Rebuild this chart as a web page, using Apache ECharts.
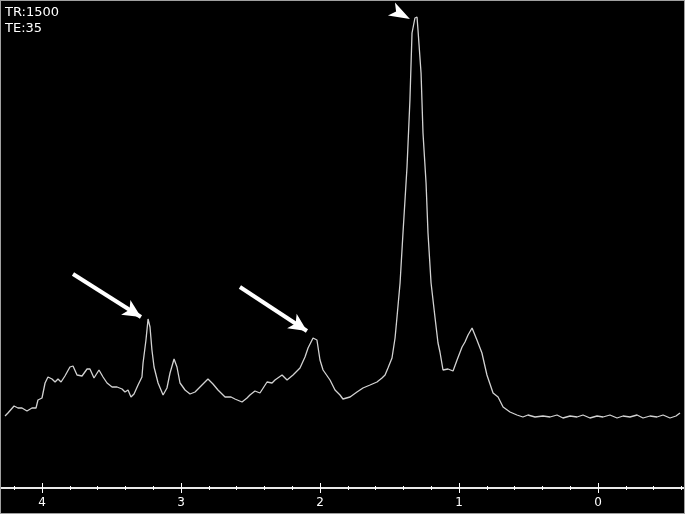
<!DOCTYPE html>
<html>
<head>
<meta charset="utf-8">
<script src="https://cdn.jsdelivr.net/npm/echarts@6/dist/echarts.min.js"></script>
<style>
  html, body { margin: 0; padding: 0; background: #000; }
  #chart { width: 685px; height: 514px; position: absolute; left: 0; top: 0; }
  #frame { width: 685px; height: 514px; position: absolute; left: 0; top: 0;
           box-sizing: border-box; border: 1px solid #a0a0a0; pointer-events: none; }
</style>
</head>
<body>
<div id="chart"></div>
<div id="frame"></div>
<script>
// chemical shift (ppm) and signal (arbitrary units)
const ppm = [
  4.266, 4.245, 4.201, 4.173, 4.144, 4.108, 4.072, 4.043, 4.029, 4.000,
  3.978, 3.957, 3.928, 3.906, 3.885, 3.863, 3.835, 3.799, 3.777, 3.748,
  3.712, 3.676, 3.655, 3.626, 3.590, 3.561, 3.532, 3.496, 3.460, 3.424,
  3.403, 3.381, 3.360, 3.338, 3.309, 3.281, 3.273, 3.252, 3.237, 3.223,
  3.209, 3.194, 3.165, 3.129, 3.101, 3.079, 3.050, 3.029, 3.007, 2.971,
  2.935, 2.899, 2.849, 2.806, 2.770, 2.734, 2.683, 2.640, 2.612, 2.561,
  2.525, 2.504, 2.468, 2.432, 2.381, 2.345, 2.324, 2.273, 2.237, 2.194,
  2.144, 2.108, 2.086, 2.050, 2.022, 2.000, 1.978, 1.928, 1.892, 1.856,
  1.835, 1.784, 1.734, 1.691, 1.640, 1.590, 1.554, 1.532, 1.511, 1.482,
  1.460, 1.446, 1.424, 1.403, 1.374, 1.353, 1.338, 1.317, 1.302, 1.295,
  1.273, 1.259, 1.237, 1.223, 1.201, 1.173, 1.151, 1.137, 1.115, 1.079,
  1.043, 1.014, 0.978, 0.957, 0.935, 0.906, 0.871, 0.835, 0.799, 0.755,
  0.719, 0.683, 0.633, 0.583, 0.540, 0.504, 0.453, 0.396, 0.345, 0.295,
  0.252, 0.201, 0.151, 0.108, 0.058, 0.007, -0.036, -0.086, -0.137, -0.180,
  -0.230, -0.281, -0.324, -0.374, -0.424, -0.468, -0.518, -0.561, -0.590
];
const signal = [
  72, 75, 82, 80, 80, 77, 80, 80, 88, 90,
  105, 111, 109, 106, 109, 106, 112, 121, 122, 113,
  112, 119, 119, 110, 118, 111, 105, 101, 101, 99,
  96, 98, 91, 94, 103, 111, 125, 148, 169, 161,
  138, 121, 105, 93, 100, 115, 129, 121, 105, 98,
  94, 96, 103, 109, 104, 98, 91, 91, 89, 86,
  90, 93, 97, 95, 106, 105, 108, 113, 108, 113,
  120, 131, 140, 150, 148, 128, 118, 108, 98, 93,
  89, 91, 96, 100, 103, 106, 110, 113, 120, 130,
  150, 171, 205, 255, 321, 388, 455, 470, 471, 458,
  415, 355, 305, 255, 205, 171, 145, 136, 118, 119,
  117, 128, 141, 146, 153, 160, 148, 135, 113, 95,
  91, 81, 76, 73, 71, 73, 71, 72, 71, 73,
  70, 72, 71, 73, 70, 72, 71, 73, 70, 72,
  71, 73, 70, 72, 71, 73, 70, 72, 75
];

// annotation arrows: [tail ppm, tail signal, tip ppm, tip signal]
const arrows = [
  [3.777, 214, 3.288, 171],
  [2.576, 201, 2.094, 157]
];
const arrowHead = [1.486, 479, 1.353, 469];

const headerLines = ['TR:1500', 'TE:35'];
const tickLabels = [4, 3, 2, 1, 0];

const chart = echarts.init(document.getElementById('chart'));

const xBase = {
  type: 'value',
  position: 'bottom',
  inverse: true,
  min: -1,
  max: 5,
  interval: 1,
  splitLine: { show: false },
  axisLine: { show: true, onZero: false, lineStyle: { color: '#e8e8e8', width: 2 } }
};

const markData = arrows.map(a => [
  { coord: [a[0], a[1]], symbol: 'none' },
  { coord: [a[2], a[3]], symbol: 'arrow', symbolSize: [13, 18] }
]);
markData.push([
  { coord: [arrowHead[0], arrowHead[1]], symbol: 'none', lineStyle: { width: 0 } },
  { coord: [arrowHead[2], arrowHead[3]], symbol: 'arrow', symbolSize: [11, 21] }
]);

chart.setOption({
  backgroundColor: '#000',
  animation: false,
  title: {
    text: headerLines.join('\n'),
    left: 0,
    top: 0,
    textStyle: { color: '#fff', fontSize: 13, fontWeight: 'normal', lineHeight: 16, fontFamily: 'DejaVu Sans' }
  },
  grid: { left: -97, width: 834, top: 0, bottom: 26, outerBoundsMode: 'none', containLabel: false },
  xAxis: [
    Object.assign({}, xBase, {
      axisTick: { show: true, inside: false, length: 5, lineStyle: { color: '#fff', width: 1 } },
      minorTick: { show: true, splitNumber: 5, length: 2, lineStyle: { color: '#fff', width: 1 } },
      axisLabel: {
        color: '#fff', fontSize: 12, fontFamily: 'DejaVu Sans', margin: 9,
        formatter: v => (tickLabels.indexOf(v) >= 0 ? String(v) : '')
      }
    }),
    Object.assign({}, xBase, {
      axisTick: { show: true, inside: true, length: 5, lineStyle: { color: '#fff', width: 1 } },
      minorTick: { show: true, splitNumber: 5, length: 2, lineStyle: { color: '#fff', width: 1 } },
      axisLabel: { show: false }
    })
  ],
  yAxis: { type: 'value', min: 0, max: 488, show: false },
  series: [{
    type: 'line',
    xAxisIndex: 0,
    data: ppm.map((p, i) => [p, signal[i]]),
    showSymbol: false,
    lineStyle: { color: '#d2d2d2', width: 1.3 },
    markLine: {
      silent: true,
      symbol: ['none', 'arrow'],
      label: { show: false },
      lineStyle: { color: '#fff', width: 4, type: 'solid' },
      data: markData
    }
  }]
});
</script>
</body>
</html>
